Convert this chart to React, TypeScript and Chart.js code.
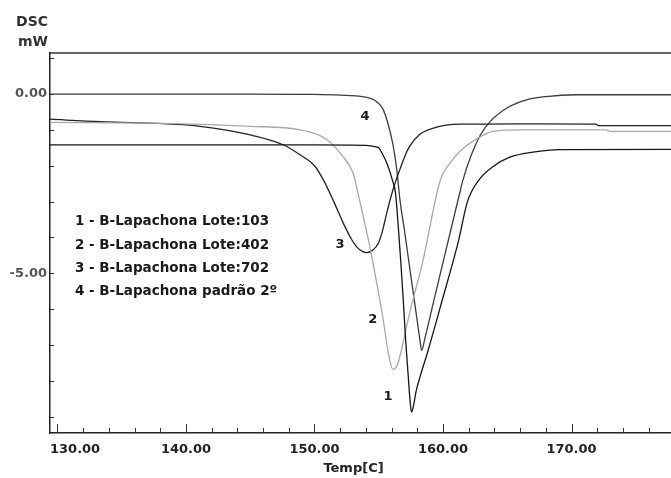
import React, { useEffect, useRef } from "react";
import { Chart, registerables } from "chart.js";

Chart.register(...registerables);

// ---- data (Temp [C] vs DSC [mW]) ----
const temp1 = [129.4, 140, 150, 154.0, 154.6, 155.0, 155.3, 155.6, 155.85, 156.1, 156.3, 156.5, 156.7, 156.9, 157.1, 157.3, 157.45, 157.55, 157.7, 157.9, 158.2, 158.8, 159.9, 161.2, 161.9, 162.8, 163.9, 165.2, 167.0, 169.1, 177.8];
const dsc1 = [-1.42, -1.42, -1.42, -1.43, -1.46, -1.5, -1.68, -1.9, -2.15, -2.45, -2.75, -3.6, -4.6, -5.7, -6.9, -7.9, -8.6, -8.87, -8.7, -8.3, -7.9, -7.2, -5.8, -4.1, -3.0, -2.39, -2.02, -1.76, -1.62, -1.55, -1.54];

const temp2 = [129.4, 137.2, 145.0, 148.9, 151.0, 152.2, 153.0, 153.5, 154.3, 154.8, 155.35, 155.75, 156.1, 156.45, 156.7, 157.4, 158.4, 159.8, 160.6, 161.3, 162.4, 163.9, 166.0, 172.7, 173.0, 177.8];
const dsc2 = [-0.79, -0.81, -0.9, -1.0, -1.28, -1.74, -2.2, -2.95, -4.25, -5.19, -6.3, -7.23, -7.68, -7.55, -7.23, -6.11, -4.71, -2.39, -1.9, -1.6, -1.3, -1.04, -1.0, -1.0, -1.04, -1.04];

const temp3 = [129.4, 133.3, 137.2, 141.1, 145.0, 147.6, 148.9, 150.0, 150.7, 151.5, 152.24, 152.8, 153.28, 153.7, 154.06, 154.5, 154.97, 155.3, 155.62, 156.0, 156.3, 156.65, 157.0, 157.4, 158.2, 159.25, 161.3, 166.0, 171.9, 172.1, 177.8];
const dsc3 = [-0.7, -0.77, -0.81, -0.9, -1.14, -1.42, -1.7, -2.0, -2.4, -3.0, -3.6, -4.0, -4.26, -4.38, -4.42, -4.36, -4.16, -3.8, -3.32, -2.8, -2.45, -2.1, -1.76, -1.46, -1.12, -0.95, -0.84, -0.83, -0.84, -0.88, -0.88];

const temp4 = [129.4, 145.0, 150.0, 152.0, 153.7, 154.8, 155.3, 155.7, 156.1, 156.4, 156.65, 157.0, 157.5, 158.0, 158.2, 158.34, 158.6, 159.24, 160.3, 161.3, 161.55, 162.2, 162.9, 163.66, 165.0, 166.5, 168.0, 170.4, 177.8];
const dsc4 = [0, 0, -0.01, -0.03, -0.07, -0.2, -0.4, -0.8, -1.4, -2.1, -2.95, -3.8, -5.08, -6.34, -6.85, -7.15, -6.8, -5.83, -4.25, -2.76, -2.4, -1.7, -1.15, -0.77, -0.38, -0.16, -0.07, -0.02, -0.02];

const legendLines = [
  "1 - B-Lapachona Lote:103",
  "2 - B-Lapachona Lote:402",
  "3 - B-Lapachona Lote:702",
  "4 - B-Lapachona padrão 2º",
];
const curveLabels = ["1", "2", "3", "4"];
const curveLabelTemp = [155.72, 154.53, 151.98, 153.93];
const curveLabelDsc = [-8.45, -6.3, -4.21, -0.63];

const xTickLabels = [130, 140, 150, 160, 170];
const yTickLabels = [0, -5];

const X_MIN = 129.42;
const X_MAX = 177.74;
const Y_MIN = -9.453;
const Y_MAX = 1.145;

const FONT = "'DejaVu Sans', sans-serif";

function pts(xs: number[], ys: number[]) {
  return xs.map((x, i) => ({ x, y: ys[i] }));
}

const decorPlugin = {
  id: "decor",
  afterDraw(chart: any) {
    const ctx = chart.ctx as CanvasRenderingContext2D;
    const xs = chart.scales.x;
    const ys = chart.scales.y;
    const a = chart.chartArea;
    ctx.save();
    // top border
    ctx.strokeStyle = "#333";
    ctx.lineWidth = 1.5;
    ctx.beginPath();
    ctx.moveTo(a.left, a.top);
    ctx.lineTo(a.right, a.top);
    ctx.stroke();
    // inner y ticks
    ctx.lineWidth = 1;
    ctx.strokeStyle = "#333";
    for (let v = Math.ceil(Y_MIN); v <= Math.floor(Y_MAX); v++) {
      const y = Math.round(ys.getPixelForValue(v)) + 0.5;
      ctx.beginPath();
      ctx.moveTo(a.left, y);
      ctx.lineTo(a.left + 4, y);
      ctx.stroke();
    }
    // inner x ticks
    for (let t = 130; t <= X_MAX; t += 2) {
      const x = Math.round(xs.getPixelForValue(t)) + 0.5;
      const len = t % 10 === 0 ? 9 : 5;
      ctx.beginPath();
      ctx.moveTo(x, a.bottom);
      ctx.lineTo(x, a.bottom - len);
      ctx.stroke();
    }
    // x tick labels
    ctx.fillStyle = "#222";
    ctx.font = `bold 13px ${FONT}`;
    ctx.textBaseline = "middle";
    ctx.textAlign = "left";
    xTickLabels.forEach((v) => {
      const s = v.toFixed(2);
      const w = ctx.measureText(s).width;
      const cx = xs.getPixelForValue(v);
      const left = Math.max(cx - w / 2, a.left);
      ctx.fillText(s, left, a.bottom + 17);
    });
    // x axis title
    ctx.textAlign = "center";
    ctx.fillText("Temp[C]", (a.left + a.right) / 2 - 7, a.bottom + 36);
    // y axis title
    ctx.fillStyle = "#333";
    ctx.font = `bold 14px ${FONT}`;
    ctx.fillText("DSC", 32, a.top - 31);
    ctx.fillText("mW", 33, a.top - 11);
    // legend text
    ctx.fillStyle = "#1a1a1a";
    ctx.font = `bold 13.5px ${FONT}`;
    ctx.textAlign = "left";
    const lx = xs.getPixelForValue(131.36);
    const ly = ys.getPixelForValue(-3.56);
    legendLines.forEach((s, i) => {
      ctx.fillText(s, lx, ly + i * 23.3);
    });
    // curve labels
    ctx.font = `bold 13px ${FONT}`;
    ctx.textAlign = "center";
    curveLabels.forEach((s, i) => {
      ctx.fillText(s, xs.getPixelForValue(curveLabelTemp[i]), ys.getPixelForValue(curveLabelDsc[i]));
    });
    ctx.restore();
  },
};

export default function App() {
  const ref = useRef<HTMLCanvasElement | null>(null);
  useEffect(() => {
    if (!ref.current) return;
    const common = { pointRadius: 0, borderWidth: 1.3, fill: false, cubicInterpolationMode: "monotone" as const };
    const chart = new Chart(ref.current, {
      type: "line",
      data: {
        datasets: [
          { ...common, label: legendLines[0], data: pts(temp1, dsc1), borderColor: "#161616" },
          { ...common, label: legendLines[1], data: pts(temp2, dsc2), borderColor: "#a9a9a9" },
          { ...common, label: legendLines[2], data: pts(temp3, dsc3), borderColor: "#222222" },
          { ...common, label: legendLines[3], data: pts(temp4, dsc4), borderColor: "#3c3c3c" },
        ],
      },
      options: {
        animation: false,
        responsive: false,
        devicePixelRatio: 1,
        layout: { padding: { left: 0, top: 53, right: 0, bottom: 45 } },
        plugins: { legend: { display: false }, tooltip: { enabled: false } },
        scales: {
          x: {
            type: "linear",
            min: X_MIN,
            max: X_MAX,
            grid: { display: false, drawTicks: false },
            border: { display: true, color: "#222", width: 1.5 },
            ticks: { display: false },
            afterFit: (s: any) => {
              s.height = 0;
            },
          },
          y: {
            type: "linear",
            min: Y_MIN,
            max: Y_MAX,
            grid: { display: false, drawTicks: false },
            border: { display: true, color: "#222", width: 1.5 },
            ticks: {
              stepSize: 1,
              includeBounds: false,
              autoSkip: false,
              padding: 3,
              color: "#555",
              font: { family: FONT, size: 13, weight: "bold" },
              callback: (v: any) => (yTickLabels.includes(Number(v)) ? Number(v).toFixed(2) : ""),
            },
            afterFit: (s: any) => {
              s.width = 50;
            },
          },
        },
      },
      plugins: [decorPlugin],
    });
    return () => chart.destroy();
  }, []);
  return (
    <div style={{ position: "absolute", left: 0, top: 0, width: 671, height: 478, background: "#fff" }}>
      <canvas ref={ref} width={671} height={478} style={{ display: "block" }} />
    </div>
  );
}
